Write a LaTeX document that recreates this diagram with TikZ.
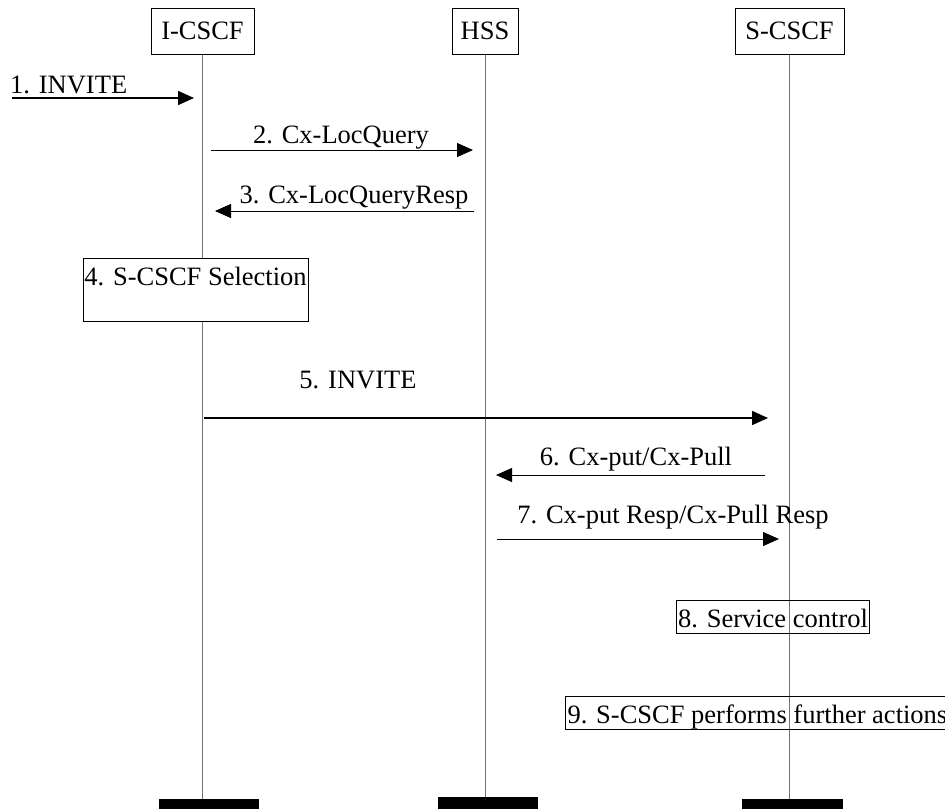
\documentclass[tikz,border=0pt]{standalone}
\usepackage{fontspec}
\setmainfont{Liberation Serif}
\usetikzlibrary{arrows.meta}
\tikzset{
  ent/.style={draw,fill=white,line width=1pt,minimum height=46pt,inner sep=0pt},
  endbar/.style={fill=black,inner sep=0pt,minimum height=10pt,minimum width=100pt},
  life/.style={draw=black!55,line width=1pt},
  msg/.style={-{Triangle[length=16pt,width=14pt]},line width=0.9pt},
  bigmsg/.style={msg,line width=1.6pt},
  lbl/.style={anchor=base,inner sep=0pt},
  act/.style={draw,line width=1pt,inner xsep=2pt,inner ysep=0pt,minimum height=33pt,
    text height=25pt,text depth=4pt},
}
\begin{document}
\begin{tikzpicture}[x=1pt,y=-1pt,font=\fontsize{26.5}{30}\selectfont]
\useasboundingbox (0,0) rectangle (945,809);
% entities and their end bars
\node[ent,minimum width=103pt] (ic) at (202.5,31) {I-CSCF};
\node[ent,minimum width=66pt] (hss) at (485,31) {HSS};
\node[ent,minimum width=109pt] (sc) at (789.5,31) {S-CSCF};
\node[endbar] (icend) at (209,804) {};
\node[endbar,minimum height=12pt] (hssend) at (488,803) {};
\node[endbar,minimum width=101pt] (scend) at (792.5,804) {};

% lifelines
\draw[life] (ic.south) -- (ic.south |- icend.north);
\draw[life] (hss.south) -- (hss.south |- hssend.north);
\draw[life] (sc.south) -- (sc.south |- scend.north);

% message end points
\coordinate (m1a) at (12,98);   \coordinate (m1b) at (194,98);
\coordinate (m2a) at (211,150); \coordinate (m2b) at (473,150);
\coordinate (m3a) at (474,211); \coordinate (m3b) at (215,211);
\coordinate (m5a) at (204,418); \coordinate (m5b) at (768,418);
\coordinate (m6a) at (765,475); \coordinate (m6b) at (496,475);
\coordinate (m7a) at (497,539); \coordinate (m7b) at (779,539);

% messages
\draw[bigmsg] (m1a) -- (m1b);
\node[lbl,anchor=base west] (l1) at (10,93) {1. INVITE};
\draw[msg] (m2a) -- (m2b);
\node[lbl] (l2) at (341,143) {2. Cx-LocQuery};
\draw[msg] (m3a) -- (m3b);
\node[lbl] (l3) at (354,203) {3. Cx-LocQueryResp};

\node[draw,fill=white,line width=1pt,inner sep=0pt,minimum width=225pt,minimum height=63pt,
  text height=18pt,text depth=27pt] (sel) at (195.5,289.5) {4. S-CSCF Selection};

\draw[bigmsg] (m5a) -- (m5b);
\node[lbl] (l5) at (358,388) {5. INVITE};
\draw[msg] (m6a) -- (m6b);
\node[lbl] (l6) at (636,465) {6. Cx-put/Cx-Pull};
\draw[msg] (m7a) -- (m7b);
\node[lbl] (l7) at (673,523) {7. Cx-put Resp/Cx-Pull Resp};

% actions at S-CSCF
\node[act,minimum width=192pt] (svc) at (773,616.5) {8. Service control};
\node[act,anchor=west] (further) at (565,712.5) {9. S-CSCF performs further actions};
\end{tikzpicture}
\end{document}
